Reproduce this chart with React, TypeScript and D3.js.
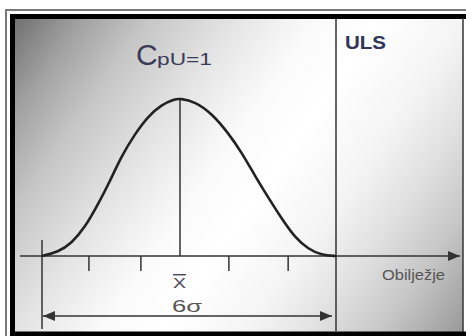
import React, { useEffect, useRef } from "react"
import * as d3 from "d3"

// curve: position in sigma units, height as share of the peak
const curveZ = [-3, -2.65, -2.36, -2.07, -1.78, -1.53, -1.28, -0.98, -0.7, -0.41, -0.12, 0, 0.29, 0.61, 0.93, 1.19, 1.44, 1.7, 1.96, 2.21, 2.47, 2.72, 3]
const curveH = [0, 0.025, 0.08, 0.18, 0.33, 0.47, 0.63, 0.775, 0.885, 0.96, 0.995, 1, 0.98, 0.905, 0.78, 0.655, 0.51, 0.37, 0.235, 0.117, 0.043, 0.006, 0]
// hand drawn ticks under the axis (sigma units)
const tickZ = [-1.98, -0.85, 0.94, 2.08]
const limits = [-3, 0, 3]
const labels = { title: "C", titleSub: "pU=1", limit: "ULS", axis: "Obilježje", mean: "X", spread: "6σ" }

const W = 466
const H = 336
const font = "'Liberation Sans', Arial, sans-serif"

const App = () => {
  const ref = useRef<SVGSVGElement>(null)

  useEffect(() => {
    const svg = d3.select(ref.current)
    svg.selectAll("*").remove()

    const x = d3.scaleLinear().domain(limits).range([42, 180, 336])
    const y = d3.scaleLinear().domain([0, 1]).range([256, 98.5])

    const defs = svg.append("defs")
    const grad = defs.append("linearGradient")
      .attr("id", "bg")
      .attr("gradientUnits", "userSpaceOnUse")
      .attr("x1", 16).attr("y1", 20).attr("x2", 462).attr("y2", 331)
    const stops: [number, string][] = [
      [0, "#727272"], [0.1, "#a2a2a2"], [0.2, "#c6c6c6"], [0.33, "#e4e4e4"], [0.45, "#fafafa"],
      [0.55, "#ffffff"], [0.68, "#f4f4f4"], [0.78, "#e0e0e0"], [0.88, "#c6c6c6"], [1, "#9a9a9a"]
    ]
    stops.forEach(([o, c]) => grad.append("stop").attr("offset", o).attr("stop-color", c))

    defs.append("marker")
      .attr("id", "arr")
      .attr("viewBox", "0 0 12 10")
      .attr("refX", 12).attr("refY", 5)
      .attr("markerWidth", 12).attr("markerHeight", 10)
      .attr("markerUnits", "userSpaceOnUse")
      .attr("orient", "auto-start-reverse")
      .append("path").attr("d", "M0,0 L12,5 L0,10 Z").attr("fill", "#333")

    // frame
    svg.append("rect").attr("width", W).attr("height", H).attr("fill", "#fff")
    svg.append("rect").attr("x", 15).attr("y", 19).attr("width", 448).attr("height", 313).attr("fill", "url(#bg)")
    svg.append("path").attr("d", "M6,336 V10 H466").attr("fill", "none").attr("stroke", "#7a7a7a").attr("stroke-width", 2)
    svg.append("path").attr("d", "M12.5,336 V16.5 H466").attr("fill", "none").attr("stroke", "#000").attr("stroke-width", 5)
    svg.append("line").attr("x1", 463).attr("x2", 463).attr("y1", 18).attr("y2", 336).attr("stroke", "#333").attr("stroke-width", 1.5)
    svg.append("rect").attr("x", 10).attr("y", 331.5).attr("width", 456).attr("height", 5).attr("fill", "#000")

    const g = svg.append("g").attr("stroke", "#333").attr("fill", "none")

    // axis
    g.append("line")
      .attr("x1", 20).attr("x2", 460)
      .attr("y1", y(0)).attr("y2", y(0))
      .attr("stroke-width", 1.6)
      .attr("marker-end", "url(#arr)")

    g.selectAll(".tick").data(tickZ).join("line")
      .attr("x1", d => x(d)).attr("x2", d => x(d))
      .attr("y1", y(0)).attr("y2", y(0) + 15)
      .attr("stroke-width", 1.5)

    // mean and limit lines
    g.append("line")
      .attr("x1", x(0)).attr("x2", x(0))
      .attr("y1", y(1)).attr("y2", y(0))
      .attr("stroke-width", 1.5)
    g.append("line")
      .attr("x1", x(3)).attr("x2", x(3))
      .attr("y1", 19).attr("y2", 331)
      .attr("stroke-width", 1.5)
    g.append("line")
      .attr("x1", x(-3)).attr("x2", x(-3))
      .attr("y1", 240).attr("y2", 329)
      .attr("stroke-width", 1.5)

    // 6 sigma dimension
    g.append("line")
      .attr("x1", x(-3) + 1).attr("x2", x(3) - 4)
      .attr("y1", 316).attr("y2", 316)
      .attr("stroke-width", 1.5)
      .attr("marker-start", "url(#arr)")
      .attr("marker-end", "url(#arr)")

    // curve
    const pts = curveZ.map((z, i) => [z, curveH[i]] as [number, number])
    const line = d3.line<[number, number]>()
      .x(d => x(d[0]))
      .y(d => y(d[1]))
      .curve(d3.curveBasis)
    svg.append("path")
      .datum(pts)
      .attr("d", line)
      .attr("fill", "none")
      .attr("stroke", "#222")
      .attr("stroke-width", 2.6)

    // texts
    const t = svg.append("g").attr("font-family", font)
    t.append("text").attr("x", 136).attr("y", 65).attr("font-size", 30).attr("fill", "#3b3b58").text(labels.title)
    t.append("text").attr("x", 157).attr("y", 65).attr("font-size", 17).attr("fill", "#3b3b58")
      .attr("textLength", 55).attr("lengthAdjust", "spacingAndGlyphs").text(labels.titleSub)
    t.append("text").attr("x", 345).attr("y", 49).attr("font-size", 19).attr("font-weight", "bold").attr("fill", "#2f3558")
      .attr("textLength", 41).attr("lengthAdjust", "spacingAndGlyphs").text(labels.limit)
    t.append("text").attr("x", 382).attr("y", 279.5).attr("font-size", 14).attr("fill", "#555")
      .attr("textLength", 63).attr("lengthAdjust", "spacingAndGlyphs").text(labels.axis)
    t.append("text").attr("x", 173).attr("y", 288).attr("font-size", 14.5).attr("fill", "#4a4a5a")
      .attr("textLength", 13).attr("lengthAdjust", "spacingAndGlyphs")
      .style("text-decoration", "overline").text(labels.mean)
    t.append("text").attr("x", 172).attr("y", 312).attr("font-size", 16).attr("fill", "#555")
      .attr("textLength", 30).attr("lengthAdjust", "spacingAndGlyphs").text(labels.spread)
  }, [])

  return (
    <svg
      ref={ref}
      width={W}
      height={H}
      style={{ position: "absolute", left: 0, top: 0 }}
    />
  )
}

export default App
